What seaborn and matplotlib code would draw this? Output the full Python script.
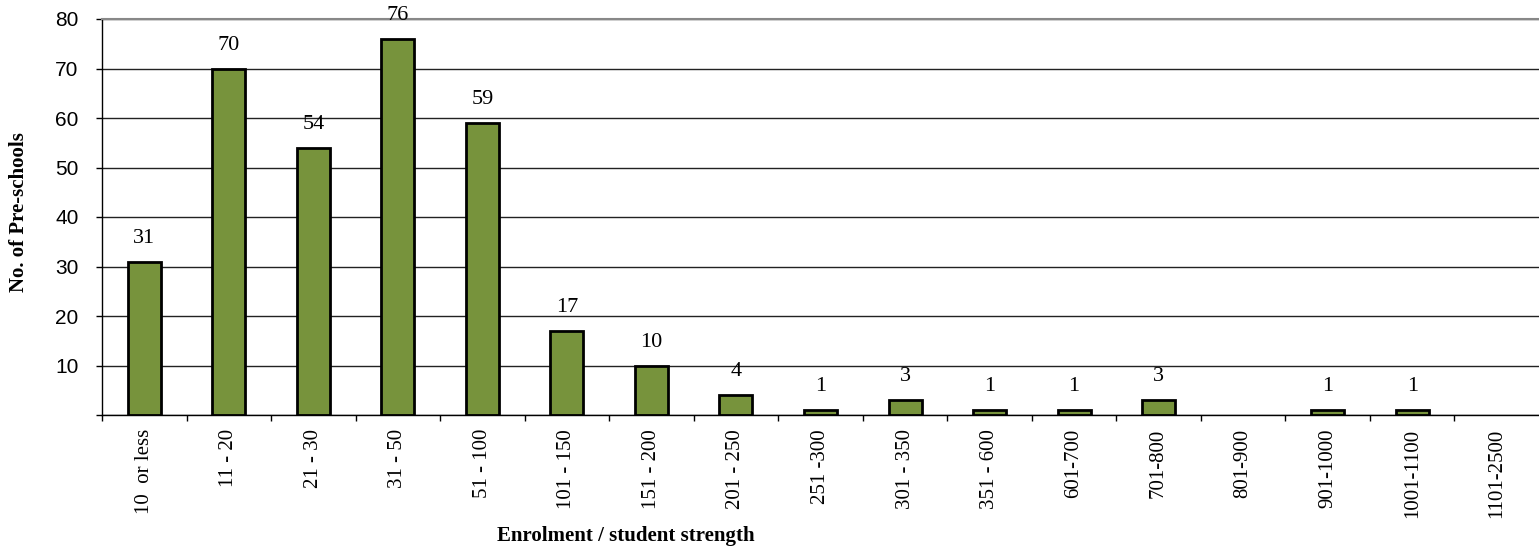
import matplotlib
matplotlib.use("Agg")
import matplotlib.pyplot as plt
import seaborn as sns
import pandas as pd
import numpy as np

categories = ["10  or less", "11 - 20", "21 - 30", "31 - 50", "51 - 100", "101 - 150",
              "151 - 200", "201 - 250", "251 -300", "301 - 350", "351 - 600", "601-700",
              "701-800", "801-900", "901-1000", "1001-1100", "1101-2500"]
counts = [31, 70, 54, 76, 59, 17, 10, 4, 1, 3, 1, 1, 3, 0, 1, 1, 0]
yticks = [10, 20, 30, 40, 50, 60, 70, 80]

df = pd.DataFrame({"cat": categories, "n": counts})

sns.set_theme(style="white")
plt.rcParams["font.family"] = ["Liberation Sans", "DejaVu Sans"]
plt.rcParams["text.color"] = "black"
plt.rcParams["xtick.color"] = "black"
plt.rcParams["ytick.color"] = "black"
plt.rcParams["axes.labelcolor"] = "black"

fig = plt.figure(figsize=(15.39, 5.5), dpi=100)
ax = fig.add_axes([102/1539, 1-415/550, 1-102/1539, (415-19)/550])

sns.barplot(data=df, x="cat", y="n", ax=ax, color="#77933C", width=0.39,
            edgecolor="black", linewidth=2, saturation=1)

# hide zero-height bars (no visible mark in reference)
for patch, v in zip(ax.containers[0], counts):
    if v == 0:
        patch.set_visible(False)

ax.set_ylim(0, 80)
ax.set_xlim(-0.5, len(categories)-0.5)
ax.set_yticks([0] + yticks)
ax.set_yticklabels([""] + [str(v) for v in yticks], fontsize=15, family="Liberation Sans")
ax.yaxis.grid(True, color="#222222", linewidth=1)
ax.set_axisbelow(True)

ax.set_xticks(range(len(categories)))
ax.set_xticklabels(categories, rotation=90, fontsize=15, family="Liberation Serif")
ax.tick_params(axis="x", which="major", length=0, pad=10)
ax.set_xticks(np.arange(-0.5, len(categories)-0.5, 1), minor=True)
ax.tick_params(axis="x", which="minor", length=4, width=1, color="black", direction="out", bottom=True)
ax.tick_params(axis="y", which="major", length=4, width=1, color="black", direction="out", left=True, pad=13)

ax.spines["right"].set_visible(False)
ax.spines["top"].set_color("#888888")
ax.spines["top"].set_linewidth(1.5)
ax.spines["left"].set_color("black")
ax.spines["bottom"].set_color("black")
ax.spines["left"].set_linewidth(1)
ax.spines["bottom"].set_linewidth(1)

labels = [str(v) if v > 0 else "" for v in counts]
ax.bar_label(ax.containers[0], labels=labels, padding=10, fontsize=16, family="Liberation Serif")

ax.set_xlabel("")
ax.set_ylabel("")
fig.text(19/1539, 1-212/550, "No. of Pre-schools", ha="center", va="center", rotation=90,
         fontsize=15, family="Liberation Serif", fontweight="bold")
fig.text(626/1539, 1-536/550, "Enrolment / student strength", ha="center", va="center",
         fontsize=15, family="Liberation Serif", fontweight="bold")

fig.savefig("out.png", dpi=100)
